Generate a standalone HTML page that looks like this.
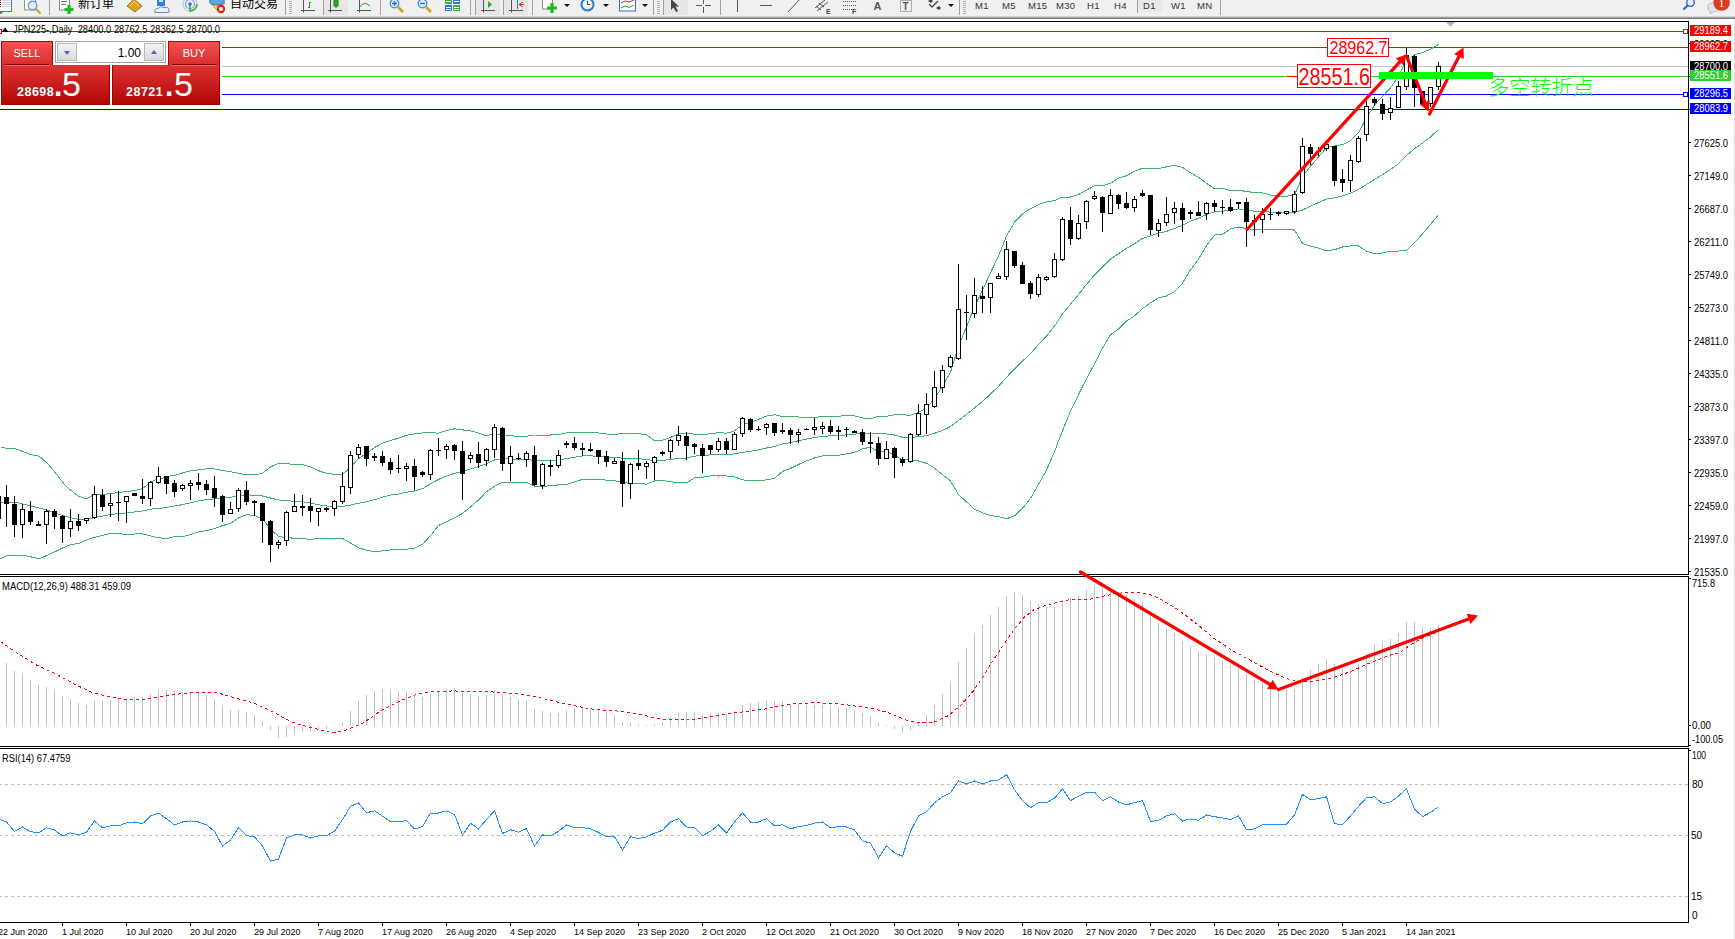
<!DOCTYPE html>
<html><head><meta charset="utf-8"><title>JPN225 Daily</title>
<style>
*{margin:0;padding:0;box-sizing:border-box}
html,body{width:1735px;height:939px;overflow:hidden;background:#fff}
body{position:relative;font-family:"Liberation Sans",Arial,sans-serif}
#chart{position:absolute;left:0;top:0}
#tb{position:absolute;left:0;top:0;width:1735px;height:19px;background:#f0f0f0;overflow:hidden}
#tb .shade1{position:absolute;left:0;top:16px;width:1735px;height:1px;background:#d4d4d4}
#tb .shade2{position:absolute;left:0;top:17px;width:1735px;height:1px;background:#a4a4a4}
#tb .tbt{position:absolute;top:-4px;font-family:"Noto Sans CJK SC",sans-serif;font-size:12px;line-height:14px;color:#000;white-space:nowrap;letter-spacing:0px}
#tb .tf{position:absolute;top:1px;font-family:"Liberation Sans",Arial,sans-serif;font-size:9.5px;line-height:10px;color:#333;letter-spacing:0.3px}
#tb .shade3{position:absolute;left:0;top:18px;width:1735px;height:1px;background:#777}
#otp{position:absolute;left:0;top:0;width:222px;height:106px}
#otp .bgw{position:absolute;left:0;top:37px;width:222px;height:69px;background:#fff}
#otp .tab{position:absolute;top:41px;height:25px;background:linear-gradient(#f25454,#d62a2a);border:1px solid #b30000;border-bottom:none;color:#fff;font-size:12px}
#otp .sell{left:1px;width:52px}
#otp .buy{left:168px;width:52px}
#otp .tab span{position:absolute;top:5px;width:100%;text-align:center;letter-spacing:0px;font-size:11px}
#otp .sep{position:absolute;height:1px;background:#8a0000;z-index:3}
#otp .sep2{position:absolute;height:1px;background:#e86a6a;z-index:3}
#otp .price{position:absolute;top:65px;height:40px;background:linear-gradient(#e03434,#b10606);border:1px solid #9e0000;color:#fff}
#otp .sellp{left:1px;width:109px;border-top:none}
#otp .buyp{left:112px;width:108px;border-top:none}
#otp .price b{position:absolute;bottom:5px;font-size:12.5px;font-weight:bold;letter-spacing:0.5px}
#otp .price em{position:absolute;bottom:3px;font-style:normal;font-size:30px;line-height:30px;font-weight:bold}
#otp .price span{position:absolute;bottom:3px;font-size:34px;line-height:34px}
#otp .sellp b{left:15px}
#otp .sellp em{left:52px}
#otp .sellp span{left:60px}
#otp .buyp b{left:13px}
#otp .buyp em{left:52px}
#otp .buyp span{left:61px}
#otp .lot{position:absolute;left:55px;top:41px;width:111px;height:22px;border:1px solid #a5a5a5;background:#fff}
#otp .lbtn{position:absolute;top:1px;width:20px;height:18px;background:linear-gradient(#f4f4f4,#d9d9d9);border:1px solid #b8b8b8}
#otp .lbtn.l{left:1px}
#otp .lbtn.r{right:1px}
#otp .lval{position:absolute;left:22px;right:22px;top:4px;text-align:right;font-size:12px;color:#000;padding-right:2px}
#otp i{position:absolute;left:6px;width:0;height:0;border-left:3.5px solid transparent;border-right:3.5px solid transparent}
#otp i.dn{top:7px;border-top:4px solid #5060c0}
#otp i.up{top:6px;border-bottom:4px solid #5060c0}
</style></head>
<body>
<svg id="chart" width="1735" height="939" viewBox="0 0 1735 939">
<defs><clipPath id="cmain"><rect x="0" y="22" width="1688" height="552"/></clipPath><clipPath id="cmacd"><rect x="0" y="577" width="1688" height="169"/></clipPath><clipPath id="crsi"><rect x="0" y="749" width="1688" height="173"/></clipPath></defs>
<g clip-path="url(#cmain)">
<g shape-rendering="crispEdges">
<rect x="0" y="31" width="1688" height="1" fill="#ff0000"/>
<rect x="0" y="47" width="1688" height="1" fill="#ff0000"/>
<rect x="0" y="66" width="1688" height="1" fill="#c0c0c0"/>
<rect x="0" y="76" width="1688" height="1" fill="#32cd32"/>
<rect x="0" y="94" width="1688" height="1" fill="#0000ff"/>
<rect x="0" y="109" width="1688" height="1" fill="#0000ff"/>
<rect x="1683.5" y="29.5" width="4" height="4" fill="#fff" stroke="#ff0000"/>
<rect x="1683.5" y="92.5" width="4" height="4" fill="#fff" stroke="#0000ff"/>
<rect x="-2.5" y="29.5" width="4" height="4" fill="#fff" stroke="#ff0000"/>
</g>
<g shape-rendering="crispEdges">
<polyline points="0.5,447.7 15.4,448.7 30.3,454.4 39.3,456.2 48.2,464.1 57.2,475.2 66.1,486.4 78.1,496.1 86.3,498.8 93.7,494.9 104.9,494.3 119.8,492.4 134.7,490.5 142.2,488.7 151.1,482.0 158.6,478.2 158.5,479.5 166.5,476.6 174.5,475.4 182.5,473.0 190.5,470.9 198.5,469.8 206.5,468.8 214.5,468.9 222.5,470.5 230.5,471.6 238.5,473.3 246.5,474.9 254.5,475.0 262.5,473.2 270.5,466.9 278.5,463.4 286.5,463.8 294.5,464.3 302.5,464.6 310.5,466.9 318.5,470.7 326.5,473.3 334.5,474.3 342.5,474.5 350.5,467.3 358.5,458.6 366.5,453.4 374.5,447.6 382.5,443.2 390.5,440.4 398.5,438.2 406.5,435.3 414.5,433.9 422.5,432.9 430.5,432.3 438.5,433.3 446.5,430.5 454.5,428.8 462.5,429.9 470.5,430.8 478.5,433.1 486.5,435.7 494.5,433.6 502.5,435.4 510.5,435.5 518.5,436.6 526.5,436.2 534.5,435.0 542.5,435.0 550.5,435.0 558.5,434.6 566.5,432.9 574.5,432.5 582.5,432.5 590.5,432.5 598.5,432.9 606.5,434.0 614.5,434.6 622.5,433.4 630.5,433.7 638.5,433.7 646.5,434.6 654.5,440.8 662.5,440.1 670.5,437.5 678.5,434.0 686.5,433.1 694.5,434.2 702.5,434.2 710.5,433.9 718.5,432.5 726.5,433.2 734.5,430.9 742.5,424.8 750.5,422.1 758.5,419.4 766.5,416.1 774.5,414.7 782.5,416.5 790.5,416.5 798.5,417.0 806.5,417.5 814.5,417.2 822.5,416.8 830.5,416.4 838.5,416.1 846.5,415.8 854.5,415.9 862.5,418.0 870.5,419.0 878.5,416.2 886.5,416.4 894.5,414.6 902.5,414.8 910.5,415.3 918.5,412.3 926.5,408.1 934.5,398.8 942.5,386.2 950.5,372.2 958.5,346.1 966.5,327.0 974.5,306.6 982.5,290.4 990.5,272.7 998.5,256.1 1006.5,235.9 1014.5,222.2 1022.5,213.8 1030.5,208.8 1038.5,204.6 1046.5,201.9 1054.5,200.5 1062.5,197.0 1070.5,197.0 1078.5,194.5 1086.5,190.1 1094.5,185.8 1102.5,185.7 1110.5,183.2 1118.5,178.1 1126.5,175.7 1134.5,171.3 1142.5,168.2 1150.5,168.6 1158.5,168.5 1166.5,166.8 1174.5,165.3 1182.5,167.4 1190.5,172.8 1198.5,177.2 1206.5,183.4 1214.5,188.6 1222.5,188.2 1230.5,190.8 1238.5,190.7 1246.5,191.2 1254.5,192.8 1262.5,192.8 1270.5,195.1 1278.5,196.0 1286.5,196.3 1294.5,195.0 1302.5,176.6 1310.5,166.2 1318.5,157.1 1326.5,147.6 1334.5,145.8 1342.5,144.7 1350.5,140.6 1358.5,132.8 1366.5,118.0 1374.5,105.0 1382.5,96.4 1390.5,88.0 1398.5,76.3 1406.5,60.5 1414.5,54.7 1422.5,52.5 1430.5,49.3 1438.5,44.4" fill="none" stroke="#3cb371" stroke-width="1" />
<polyline points="0.5,502.1 15.4,502.1 30.3,505.8 45.2,509.5 60.2,514.8 75.1,518.8 84.0,520.0 97.4,517.0 112.4,514.3 127.3,512.8 142.2,511.0 157.1,508.1 158.5,508.6 166.5,507.6 174.5,505.9 182.5,504.7 190.5,502.8 198.5,500.8 206.5,499.7 214.5,498.8 222.5,498.1 230.5,497.4 238.5,495.6 246.5,494.8 254.5,495.3 262.5,496.0 270.5,498.0 278.5,500.0 286.5,500.7 294.5,501.3 302.5,501.7 310.5,503.1 318.5,504.7 326.5,506.0 334.5,506.5 342.5,506.5 350.5,505.1 358.5,503.3 366.5,501.7 374.5,499.7 382.5,497.1 390.5,495.1 398.5,494.1 406.5,492.3 414.5,491.0 422.5,488.7 430.5,483.9 438.5,479.4 446.5,476.1 454.5,473.3 462.5,471.7 470.5,468.9 478.5,466.6 486.5,463.7 494.5,460.0 502.5,458.8 510.5,458.9 518.5,459.5 526.5,459.2 534.5,460.6 542.5,460.6 550.5,460.4 558.5,459.8 566.5,458.6 574.5,457.2 582.5,455.9 590.5,455.9 598.5,456.3 606.5,457.0 614.5,457.6 622.5,458.1 630.5,458.5 638.5,458.7 646.5,459.4 654.5,460.9 662.5,460.4 670.5,459.5 678.5,458.4 686.5,458.0 694.5,456.1 702.5,455.7 710.5,454.9 718.5,454.2 726.5,454.6 734.5,453.9 742.5,452.3 750.5,451.3 758.5,449.9 766.5,448.0 774.5,446.6 782.5,443.9 790.5,442.5 798.5,440.8 806.5,439.1 814.5,437.6 822.5,436.3 830.5,435.9 838.5,435.7 846.5,434.9 854.5,434.2 862.5,433.4 870.5,433.1 878.5,433.9 886.5,433.9 894.5,435.0 902.5,437.3 910.5,437.5 918.5,436.7 926.5,435.7 934.5,433.4 942.5,430.4 950.5,426.5 958.5,420.4 966.5,414.5 974.5,407.9 982.5,401.5 990.5,394.1 998.5,386.4 1006.5,377.3 1014.5,369.0 1022.5,361.1 1030.5,353.6 1038.5,344.5 1046.5,336.0 1054.5,326.0 1062.5,313.9 1070.5,304.1 1078.5,294.6 1086.5,284.4 1094.5,274.9 1102.5,267.0 1110.5,258.9 1118.5,253.6 1126.5,248.4 1134.5,243.6 1142.5,238.4 1150.5,235.8 1158.5,233.1 1166.5,231.4 1174.5,228.5 1182.5,225.3 1190.5,221.3 1198.5,218.2 1206.5,214.5 1214.5,211.9 1222.5,211.3 1230.5,209.9 1238.5,208.9 1246.5,209.9 1254.5,211.2 1262.5,211.2 1270.5,212.2 1278.5,212.6 1286.5,212.8 1294.5,212.5 1302.5,210.0 1310.5,206.2 1318.5,202.6 1326.5,199.1 1334.5,197.8 1342.5,195.9 1350.5,193.3 1358.5,189.4 1366.5,184.5 1374.5,179.4 1382.5,174.7 1390.5,169.5 1398.5,163.7 1406.5,155.4 1414.5,148.7 1422.5,143.2 1430.5,136.9 1438.5,129.5" fill="none" stroke="#3cb371" stroke-width="1" />
<polyline points="0.5,558.8 8.0,555.0 22.9,555.0 39.3,558.8 52.7,552.8 67.6,545.6 79.5,543.1 90.0,538.6 109.4,533.7 130.3,534.2 142.2,533.7 158.6,537.9 158.5,537.7 166.5,538.6 174.5,536.5 182.5,536.5 190.5,534.7 198.5,531.8 206.5,530.6 214.5,528.6 222.5,525.6 230.5,523.3 238.5,518.0 246.5,514.7 254.5,515.5 262.5,518.7 270.5,529.2 278.5,536.5 286.5,537.7 294.5,538.2 302.5,538.7 310.5,539.3 318.5,538.7 326.5,538.7 334.5,538.6 342.5,538.5 350.5,543.0 358.5,547.9 366.5,550.1 374.5,551.7 382.5,550.9 390.5,549.9 398.5,550.0 406.5,549.3 414.5,548.1 422.5,544.4 430.5,535.6 438.5,525.5 446.5,521.7 454.5,517.9 462.5,513.4 470.5,507.0 478.5,500.1 486.5,491.6 494.5,486.3 502.5,482.2 510.5,482.3 518.5,482.3 526.5,482.1 534.5,486.2 542.5,486.3 550.5,485.8 558.5,484.9 566.5,484.4 574.5,481.9 582.5,479.4 590.5,479.4 598.5,479.6 606.5,480.1 614.5,480.5 622.5,482.7 630.5,483.3 638.5,483.7 646.5,484.1 654.5,481.0 662.5,480.6 670.5,481.6 678.5,482.7 686.5,482.9 694.5,477.9 702.5,477.2 710.5,475.9 718.5,476.0 726.5,475.9 734.5,476.8 742.5,479.9 750.5,480.5 758.5,480.4 766.5,479.9 774.5,478.4 782.5,471.4 790.5,468.5 798.5,464.5 806.5,460.8 814.5,458.0 822.5,455.8 830.5,455.3 838.5,455.2 846.5,454.0 854.5,452.4 862.5,448.9 870.5,447.1 878.5,451.7 886.5,451.3 894.5,455.4 902.5,459.7 910.5,459.7 918.5,461.0 926.5,463.3 934.5,468.1 942.5,474.6 950.5,480.8 958.5,494.6 966.5,501.9 974.5,509.2 982.5,512.7 990.5,515.5 998.5,516.6 1006.5,518.7 1014.5,515.8 1022.5,508.3 1030.5,498.5 1038.5,484.5 1046.5,470.0 1054.5,451.6 1062.5,430.7 1070.5,411.2 1078.5,394.6 1086.5,378.7 1094.5,364.0 1102.5,348.4 1110.5,334.6 1118.5,329.1 1126.5,321.1 1134.5,315.9 1142.5,308.6 1150.5,302.9 1158.5,297.7 1166.5,296.0 1174.5,291.7 1182.5,283.2 1190.5,269.7 1198.5,259.2 1206.5,245.6 1214.5,235.1 1222.5,234.3 1230.5,228.9 1238.5,227.0 1246.5,228.6 1254.5,229.5 1262.5,229.7 1270.5,229.2 1278.5,229.3 1286.5,229.3 1294.5,230.1 1302.5,243.4 1310.5,246.2 1318.5,248.2 1326.5,250.7 1334.5,249.7 1342.5,247.0 1350.5,245.9 1358.5,246.0 1366.5,251.1 1374.5,253.7 1382.5,253.0 1390.5,251.1 1398.5,251.1 1406.5,250.3 1414.5,242.7 1422.5,233.9 1430.5,224.4 1438.5,214.7" fill="none" stroke="#3cb371" stroke-width="1" />
</g>
<g shape-rendering="crispEdges" fill="#000">
<rect x="-2" y="494" width="1" height="27"/>
<rect x="-4" y="496" width="5" height="23"/>
<rect x="6" y="485" width="1" height="42"/>
<rect x="4" y="497" width="5" height="7"/>
<rect x="14" y="496" width="1" height="41"/>
<rect x="12" y="504" width="5" height="21"/>
<rect x="22" y="504" width="1" height="34"/>
<rect x="20" y="509" width="5" height="16"/>
<rect x="21" y="510" width="3" height="14" fill="#fff"/>
<rect x="30" y="501" width="1" height="24"/>
<rect x="28" y="511" width="5" height="11"/>
<rect x="38" y="521" width="1" height="5"/>
<rect x="36" y="524" width="5" height="2"/>
<rect x="46" y="509" width="1" height="35"/>
<rect x="44" y="511" width="5" height="14"/>
<rect x="45" y="512" width="3" height="12" fill="#fff"/>
<rect x="54" y="509" width="1" height="20"/>
<rect x="52" y="511" width="5" height="6"/>
<rect x="62" y="515" width="1" height="28"/>
<rect x="60" y="516" width="5" height="13"/>
<rect x="70" y="509" width="1" height="28"/>
<rect x="68" y="521" width="5" height="8"/>
<rect x="69" y="522" width="3" height="6" fill="#fff"/>
<rect x="78" y="514" width="1" height="17"/>
<rect x="76" y="521" width="5" height="5"/>
<rect x="86" y="518" width="1" height="6"/>
<rect x="84" y="518" width="5" height="3"/>
<rect x="85" y="519" width="3" height="1" fill="#fff"/>
<rect x="94" y="486" width="1" height="33"/>
<rect x="92" y="494" width="5" height="24"/>
<rect x="93" y="495" width="3" height="22" fill="#fff"/>
<rect x="102" y="489" width="1" height="22"/>
<rect x="100" y="495" width="5" height="12"/>
<rect x="110" y="494" width="1" height="23"/>
<rect x="108" y="503" width="5" height="3"/>
<rect x="109" y="504" width="3" height="1" fill="#fff"/>
<rect x="118" y="491" width="1" height="30"/>
<rect x="116" y="502" width="5" height="1"/>
<rect x="126" y="496" width="1" height="27"/>
<rect x="124" y="496" width="5" height="6"/>
<rect x="125" y="497" width="3" height="4" fill="#fff"/>
<rect x="134" y="493" width="1" height="3"/>
<rect x="132" y="493" width="5" height="3"/>
<rect x="142" y="479" width="1" height="25"/>
<rect x="140" y="496" width="5" height="3"/>
<rect x="150" y="481" width="1" height="25"/>
<rect x="148" y="482" width="5" height="17"/>
<rect x="149" y="483" width="3" height="15" fill="#fff"/>
<rect x="158" y="467" width="1" height="17"/>
<rect x="156" y="476" width="5" height="7"/>
<rect x="157" y="477" width="3" height="5" fill="#fff"/>
<rect x="166" y="476" width="1" height="18"/>
<rect x="164" y="476" width="5" height="8"/>
<rect x="174" y="480" width="1" height="17"/>
<rect x="172" y="483" width="5" height="9"/>
<rect x="182" y="484" width="1" height="7"/>
<rect x="180" y="485" width="5" height="4"/>
<rect x="181" y="486" width="3" height="2" fill="#fff"/>
<rect x="190" y="480" width="1" height="20"/>
<rect x="188" y="483" width="5" height="3"/>
<rect x="189" y="484" width="3" height="1" fill="#fff"/>
<rect x="198" y="473" width="1" height="17"/>
<rect x="196" y="482" width="5" height="3"/>
<rect x="206" y="480" width="1" height="15"/>
<rect x="204" y="484" width="5" height="6"/>
<rect x="214" y="476" width="1" height="31"/>
<rect x="212" y="488" width="5" height="10"/>
<rect x="222" y="495" width="1" height="27"/>
<rect x="220" y="496" width="5" height="19"/>
<rect x="230" y="502" width="1" height="12"/>
<rect x="228" y="509" width="5" height="5"/>
<rect x="229" y="510" width="3" height="3" fill="#fff"/>
<rect x="238" y="488" width="1" height="24"/>
<rect x="236" y="490" width="5" height="19"/>
<rect x="237" y="491" width="3" height="17" fill="#fff"/>
<rect x="246" y="481" width="1" height="24"/>
<rect x="244" y="490" width="5" height="12"/>
<rect x="254" y="500" width="1" height="16"/>
<rect x="252" y="501" width="5" height="2"/>
<rect x="262" y="503" width="1" height="40"/>
<rect x="260" y="503" width="5" height="18"/>
<rect x="270" y="520" width="1" height="42"/>
<rect x="268" y="521" width="5" height="24"/>
<rect x="278" y="540" width="1" height="9"/>
<rect x="276" y="542" width="5" height="3"/>
<rect x="277" y="543" width="3" height="1" fill="#fff"/>
<rect x="286" y="511" width="1" height="35"/>
<rect x="284" y="512" width="5" height="29"/>
<rect x="285" y="513" width="3" height="27" fill="#fff"/>
<rect x="294" y="494" width="1" height="18"/>
<rect x="292" y="506" width="5" height="6"/>
<rect x="293" y="507" width="3" height="4" fill="#fff"/>
<rect x="302" y="495" width="1" height="21"/>
<rect x="300" y="506" width="5" height="2"/>
<rect x="310" y="498" width="1" height="24"/>
<rect x="308" y="506" width="5" height="5"/>
<rect x="318" y="508" width="1" height="18"/>
<rect x="316" y="508" width="5" height="4"/>
<rect x="317" y="509" width="3" height="2" fill="#fff"/>
<rect x="326" y="507" width="1" height="5"/>
<rect x="324" y="508" width="5" height="2"/>
<rect x="334" y="500" width="1" height="16"/>
<rect x="332" y="501" width="5" height="8"/>
<rect x="333" y="502" width="3" height="6" fill="#fff"/>
<rect x="342" y="472" width="1" height="32"/>
<rect x="340" y="486" width="5" height="16"/>
<rect x="341" y="487" width="3" height="14" fill="#fff"/>
<rect x="350" y="451" width="1" height="43"/>
<rect x="348" y="455" width="5" height="33"/>
<rect x="349" y="456" width="3" height="31" fill="#fff"/>
<rect x="358" y="444" width="1" height="15"/>
<rect x="356" y="447" width="5" height="8"/>
<rect x="357" y="448" width="3" height="6" fill="#fff"/>
<rect x="366" y="446" width="1" height="20"/>
<rect x="364" y="446" width="5" height="13"/>
<rect x="374" y="453" width="1" height="8"/>
<rect x="372" y="456" width="5" height="2"/>
<rect x="382" y="451" width="1" height="15"/>
<rect x="380" y="456" width="5" height="7"/>
<rect x="390" y="458" width="1" height="16"/>
<rect x="388" y="462" width="5" height="8"/>
<rect x="398" y="455" width="1" height="18"/>
<rect x="396" y="468" width="5" height="1"/>
<rect x="406" y="463" width="1" height="18"/>
<rect x="404" y="466" width="5" height="3"/>
<rect x="405" y="467" width="3" height="1" fill="#fff"/>
<rect x="414" y="459" width="1" height="31"/>
<rect x="412" y="466" width="5" height="11"/>
<rect x="422" y="471" width="1" height="6"/>
<rect x="420" y="472" width="5" height="3"/>
<rect x="430" y="449" width="1" height="31"/>
<rect x="428" y="450" width="5" height="25"/>
<rect x="429" y="451" width="3" height="23" fill="#fff"/>
<rect x="438" y="438" width="1" height="18"/>
<rect x="436" y="450" width="5" height="1"/>
<rect x="446" y="444" width="1" height="15"/>
<rect x="444" y="446" width="5" height="4"/>
<rect x="445" y="447" width="3" height="2" fill="#fff"/>
<rect x="454" y="444" width="1" height="16"/>
<rect x="452" y="445" width="5" height="6"/>
<rect x="462" y="441" width="1" height="59"/>
<rect x="460" y="451" width="5" height="23"/>
<rect x="470" y="452" width="1" height="11"/>
<rect x="468" y="455" width="5" height="4"/>
<rect x="469" y="456" width="3" height="2" fill="#fff"/>
<rect x="478" y="442" width="1" height="26"/>
<rect x="476" y="454" width="5" height="9"/>
<rect x="486" y="448" width="1" height="18"/>
<rect x="484" y="449" width="5" height="12"/>
<rect x="485" y="450" width="3" height="10" fill="#fff"/>
<rect x="494" y="424" width="1" height="34"/>
<rect x="492" y="427" width="5" height="23"/>
<rect x="493" y="428" width="3" height="21" fill="#fff"/>
<rect x="502" y="427" width="1" height="44"/>
<rect x="500" y="428" width="5" height="36"/>
<rect x="510" y="446" width="1" height="35"/>
<rect x="508" y="456" width="5" height="8"/>
<rect x="509" y="457" width="3" height="6" fill="#fff"/>
<rect x="518" y="453" width="1" height="7"/>
<rect x="516" y="458" width="5" height="1"/>
<rect x="526" y="451" width="1" height="16"/>
<rect x="524" y="453" width="5" height="7"/>
<rect x="525" y="454" width="3" height="5" fill="#fff"/>
<rect x="534" y="446" width="1" height="40"/>
<rect x="532" y="455" width="5" height="30"/>
<rect x="542" y="463" width="1" height="26"/>
<rect x="540" y="464" width="5" height="22"/>
<rect x="541" y="465" width="3" height="20" fill="#fff"/>
<rect x="550" y="460" width="1" height="16"/>
<rect x="548" y="465" width="5" height="2"/>
<rect x="558" y="450" width="1" height="18"/>
<rect x="556" y="455" width="5" height="11"/>
<rect x="557" y="456" width="3" height="9" fill="#fff"/>
<rect x="566" y="441" width="1" height="7"/>
<rect x="564" y="443" width="5" height="2"/>
<rect x="574" y="437" width="1" height="13"/>
<rect x="572" y="443" width="5" height="5"/>
<rect x="582" y="443" width="1" height="13"/>
<rect x="580" y="448" width="5" height="2"/>
<rect x="590" y="443" width="1" height="9"/>
<rect x="588" y="449" width="5" height="2"/>
<rect x="598" y="450" width="1" height="14"/>
<rect x="596" y="450" width="5" height="7"/>
<rect x="606" y="451" width="1" height="16"/>
<rect x="604" y="456" width="5" height="6"/>
<rect x="614" y="458" width="1" height="6"/>
<rect x="612" y="461" width="5" height="3"/>
<rect x="613" y="462" width="3" height="1" fill="#fff"/>
<rect x="622" y="452" width="1" height="55"/>
<rect x="620" y="461" width="5" height="23"/>
<rect x="630" y="463" width="1" height="36"/>
<rect x="628" y="464" width="5" height="20"/>
<rect x="629" y="465" width="3" height="18" fill="#fff"/>
<rect x="638" y="450" width="1" height="20"/>
<rect x="636" y="463" width="5" height="3"/>
<rect x="646" y="461" width="1" height="18"/>
<rect x="644" y="463" width="5" height="4"/>
<rect x="645" y="464" width="3" height="2" fill="#fff"/>
<rect x="654" y="456" width="1" height="24"/>
<rect x="652" y="457" width="5" height="6"/>
<rect x="653" y="458" width="3" height="4" fill="#fff"/>
<rect x="662" y="451" width="1" height="5"/>
<rect x="660" y="452" width="5" height="2"/>
<rect x="670" y="439" width="1" height="20"/>
<rect x="668" y="440" width="5" height="12"/>
<rect x="669" y="441" width="3" height="10" fill="#fff"/>
<rect x="678" y="426" width="1" height="20"/>
<rect x="676" y="435" width="5" height="6"/>
<rect x="677" y="436" width="3" height="4" fill="#fff"/>
<rect x="686" y="432" width="1" height="28"/>
<rect x="684" y="436" width="5" height="10"/>
<rect x="694" y="443" width="1" height="11"/>
<rect x="692" y="444" width="5" height="3"/>
<rect x="702" y="444" width="1" height="29"/>
<rect x="700" y="448" width="5" height="8"/>
<rect x="710" y="445" width="1" height="9"/>
<rect x="708" y="445" width="5" height="5"/>
<rect x="718" y="438" width="1" height="14"/>
<rect x="716" y="441" width="5" height="9"/>
<rect x="717" y="442" width="3" height="7" fill="#fff"/>
<rect x="726" y="438" width="1" height="16"/>
<rect x="724" y="441" width="5" height="9"/>
<rect x="734" y="432" width="1" height="18"/>
<rect x="732" y="434" width="5" height="16"/>
<rect x="733" y="435" width="3" height="14" fill="#fff"/>
<rect x="742" y="417" width="1" height="20"/>
<rect x="740" y="418" width="5" height="16"/>
<rect x="741" y="419" width="3" height="14" fill="#fff"/>
<rect x="750" y="418" width="1" height="14"/>
<rect x="748" y="419" width="5" height="11"/>
<rect x="758" y="426" width="1" height="5"/>
<rect x="756" y="429" width="5" height="1"/>
<rect x="766" y="423" width="1" height="12"/>
<rect x="764" y="424" width="5" height="4"/>
<rect x="765" y="425" width="3" height="2" fill="#fff"/>
<rect x="774" y="423" width="1" height="13"/>
<rect x="772" y="423" width="5" height="10"/>
<rect x="782" y="423" width="1" height="11"/>
<rect x="780" y="430" width="5" height="2"/>
<rect x="790" y="428" width="1" height="16"/>
<rect x="788" y="430" width="5" height="5"/>
<rect x="798" y="429" width="1" height="14"/>
<rect x="796" y="432" width="5" height="3"/>
<rect x="797" y="433" width="3" height="1" fill="#fff"/>
<rect x="806" y="428" width="1" height="2"/>
<rect x="804" y="429" width="5" height="1"/>
<rect x="814" y="418" width="1" height="17"/>
<rect x="812" y="427" width="5" height="3"/>
<rect x="813" y="428" width="3" height="1" fill="#fff"/>
<rect x="822" y="422" width="1" height="12"/>
<rect x="820" y="426" width="5" height="3"/>
<rect x="821" y="427" width="3" height="1" fill="#fff"/>
<rect x="830" y="420" width="1" height="14"/>
<rect x="828" y="426" width="5" height="6"/>
<rect x="838" y="426" width="1" height="14"/>
<rect x="836" y="430" width="5" height="2"/>
<rect x="846" y="427" width="1" height="10"/>
<rect x="844" y="429" width="5" height="1"/>
<rect x="854" y="430" width="1" height="3"/>
<rect x="852" y="431" width="5" height="2"/>
<rect x="862" y="429" width="1" height="16"/>
<rect x="860" y="432" width="5" height="10"/>
<rect x="870" y="432" width="1" height="21"/>
<rect x="868" y="442" width="5" height="2"/>
<rect x="878" y="437" width="1" height="28"/>
<rect x="876" y="443" width="5" height="16"/>
<rect x="886" y="441" width="1" height="18"/>
<rect x="884" y="449" width="5" height="10"/>
<rect x="885" y="450" width="3" height="8" fill="#fff"/>
<rect x="894" y="447" width="1" height="31"/>
<rect x="892" y="448" width="5" height="10"/>
<rect x="902" y="457" width="1" height="9"/>
<rect x="900" y="459" width="5" height="4"/>
<rect x="910" y="433" width="1" height="30"/>
<rect x="908" y="434" width="5" height="28"/>
<rect x="909" y="435" width="3" height="26" fill="#fff"/>
<rect x="918" y="404" width="1" height="32"/>
<rect x="916" y="413" width="5" height="22"/>
<rect x="917" y="414" width="3" height="20" fill="#fff"/>
<rect x="926" y="393" width="1" height="41"/>
<rect x="924" y="404" width="5" height="11"/>
<rect x="925" y="405" width="3" height="9" fill="#fff"/>
<rect x="934" y="371" width="1" height="37"/>
<rect x="932" y="387" width="5" height="20"/>
<rect x="933" y="388" width="3" height="18" fill="#fff"/>
<rect x="942" y="365" width="1" height="28"/>
<rect x="940" y="370" width="5" height="18"/>
<rect x="941" y="371" width="3" height="16" fill="#fff"/>
<rect x="950" y="355" width="1" height="13"/>
<rect x="948" y="357" width="5" height="10"/>
<rect x="949" y="358" width="3" height="8" fill="#fff"/>
<rect x="958" y="264" width="1" height="96"/>
<rect x="956" y="309" width="5" height="50"/>
<rect x="957" y="310" width="3" height="48" fill="#fff"/>
<rect x="966" y="295" width="1" height="45"/>
<rect x="964" y="312" width="5" height="1"/>
<rect x="974" y="278" width="1" height="40"/>
<rect x="972" y="295" width="5" height="19"/>
<rect x="973" y="296" width="3" height="17" fill="#fff"/>
<rect x="982" y="286" width="1" height="27"/>
<rect x="980" y="296" width="5" height="3"/>
<rect x="990" y="283" width="1" height="30"/>
<rect x="988" y="283" width="5" height="15"/>
<rect x="989" y="284" width="3" height="13" fill="#fff"/>
<rect x="998" y="273" width="1" height="6"/>
<rect x="996" y="276" width="5" height="3"/>
<rect x="997" y="277" width="3" height="1" fill="#fff"/>
<rect x="1006" y="241" width="1" height="39"/>
<rect x="1004" y="249" width="5" height="28"/>
<rect x="1005" y="250" width="3" height="26" fill="#fff"/>
<rect x="1014" y="251" width="1" height="17"/>
<rect x="1012" y="251" width="5" height="15"/>
<rect x="1022" y="262" width="1" height="22"/>
<rect x="1020" y="265" width="5" height="19"/>
<rect x="1030" y="281" width="1" height="18"/>
<rect x="1028" y="283" width="5" height="11"/>
<rect x="1038" y="274" width="1" height="23"/>
<rect x="1036" y="277" width="5" height="18"/>
<rect x="1037" y="278" width="3" height="16" fill="#fff"/>
<rect x="1046" y="276" width="1" height="5"/>
<rect x="1044" y="277" width="5" height="3"/>
<rect x="1045" y="278" width="3" height="1" fill="#fff"/>
<rect x="1054" y="253" width="1" height="25"/>
<rect x="1052" y="259" width="5" height="18"/>
<rect x="1053" y="260" width="3" height="16" fill="#fff"/>
<rect x="1062" y="217" width="1" height="44"/>
<rect x="1060" y="219" width="5" height="41"/>
<rect x="1061" y="220" width="3" height="39" fill="#fff"/>
<rect x="1070" y="207" width="1" height="38"/>
<rect x="1068" y="220" width="5" height="19"/>
<rect x="1078" y="215" width="1" height="25"/>
<rect x="1076" y="223" width="5" height="16"/>
<rect x="1077" y="224" width="3" height="14" fill="#fff"/>
<rect x="1086" y="200" width="1" height="29"/>
<rect x="1084" y="201" width="5" height="21"/>
<rect x="1085" y="202" width="3" height="19" fill="#fff"/>
<rect x="1094" y="191" width="1" height="9"/>
<rect x="1092" y="196" width="5" height="3"/>
<rect x="1093" y="197" width="3" height="1" fill="#fff"/>
<rect x="1102" y="196" width="1" height="36"/>
<rect x="1100" y="197" width="5" height="16"/>
<rect x="1110" y="189" width="1" height="25"/>
<rect x="1108" y="195" width="5" height="19"/>
<rect x="1109" y="196" width="3" height="17" fill="#fff"/>
<rect x="1118" y="194" width="1" height="15"/>
<rect x="1116" y="195" width="5" height="9"/>
<rect x="1126" y="192" width="1" height="17"/>
<rect x="1124" y="203" width="5" height="5"/>
<rect x="1134" y="196" width="1" height="16"/>
<rect x="1132" y="199" width="5" height="9"/>
<rect x="1133" y="200" width="3" height="7" fill="#fff"/>
<rect x="1142" y="190" width="1" height="7"/>
<rect x="1140" y="193" width="5" height="3"/>
<rect x="1150" y="195" width="1" height="40"/>
<rect x="1148" y="195" width="5" height="35"/>
<rect x="1158" y="219" width="1" height="18"/>
<rect x="1156" y="223" width="5" height="8"/>
<rect x="1157" y="224" width="3" height="6" fill="#fff"/>
<rect x="1166" y="197" width="1" height="29"/>
<rect x="1164" y="214" width="5" height="9"/>
<rect x="1165" y="215" width="3" height="7" fill="#fff"/>
<rect x="1174" y="202" width="1" height="22"/>
<rect x="1172" y="208" width="5" height="5"/>
<rect x="1173" y="209" width="3" height="3" fill="#fff"/>
<rect x="1182" y="203" width="1" height="29"/>
<rect x="1180" y="208" width="5" height="12"/>
<rect x="1190" y="210" width="1" height="9"/>
<rect x="1188" y="212" width="5" height="2"/>
<rect x="1198" y="201" width="1" height="15"/>
<rect x="1196" y="212" width="5" height="4"/>
<rect x="1206" y="202" width="1" height="18"/>
<rect x="1204" y="203" width="5" height="11"/>
<rect x="1205" y="204" width="3" height="9" fill="#fff"/>
<rect x="1214" y="200" width="1" height="12"/>
<rect x="1212" y="203" width="5" height="4"/>
<rect x="1222" y="200" width="1" height="14"/>
<rect x="1220" y="207" width="5" height="1"/>
<rect x="1230" y="199" width="1" height="13"/>
<rect x="1228" y="207" width="5" height="4"/>
<rect x="1238" y="202" width="1" height="7"/>
<rect x="1236" y="202" width="5" height="2"/>
<rect x="1246" y="198" width="1" height="49"/>
<rect x="1244" y="202" width="5" height="20"/>
<rect x="1254" y="215" width="1" height="21"/>
<rect x="1252" y="220" width="5" height="2"/>
<rect x="1262" y="208" width="1" height="25"/>
<rect x="1260" y="214" width="5" height="6"/>
<rect x="1261" y="215" width="3" height="4" fill="#fff"/>
<rect x="1270" y="208" width="1" height="12"/>
<rect x="1268" y="214" width="5" height="1"/>
<rect x="1278" y="211" width="1" height="5"/>
<rect x="1276" y="212" width="5" height="2"/>
<rect x="1286" y="211" width="1" height="4"/>
<rect x="1284" y="211" width="5" height="3"/>
<rect x="1285" y="212" width="3" height="1" fill="#fff"/>
<rect x="1294" y="191" width="1" height="23"/>
<rect x="1292" y="194" width="5" height="18"/>
<rect x="1293" y="195" width="3" height="16" fill="#fff"/>
<rect x="1302" y="138" width="1" height="56"/>
<rect x="1300" y="146" width="5" height="47"/>
<rect x="1301" y="147" width="3" height="45" fill="#fff"/>
<rect x="1310" y="144" width="1" height="21"/>
<rect x="1308" y="147" width="5" height="7"/>
<rect x="1318" y="147" width="1" height="9"/>
<rect x="1316" y="151" width="5" height="1"/>
<rect x="1326" y="140" width="1" height="11"/>
<rect x="1324" y="144" width="5" height="5"/>
<rect x="1325" y="145" width="3" height="3" fill="#fff"/>
<rect x="1334" y="146" width="1" height="40"/>
<rect x="1332" y="146" width="5" height="35"/>
<rect x="1342" y="169" width="1" height="23"/>
<rect x="1340" y="179" width="5" height="4"/>
<rect x="1350" y="155" width="1" height="37"/>
<rect x="1348" y="160" width="5" height="21"/>
<rect x="1349" y="161" width="3" height="19" fill="#fff"/>
<rect x="1358" y="136" width="1" height="27"/>
<rect x="1356" y="138" width="5" height="24"/>
<rect x="1357" y="139" width="3" height="22" fill="#fff"/>
<rect x="1366" y="101" width="1" height="40"/>
<rect x="1364" y="106" width="5" height="29"/>
<rect x="1365" y="107" width="3" height="27" fill="#fff"/>
<rect x="1374" y="97" width="1" height="9"/>
<rect x="1372" y="99" width="5" height="4"/>
<rect x="1382" y="99" width="1" height="21"/>
<rect x="1380" y="104" width="5" height="10"/>
<rect x="1390" y="97" width="1" height="23"/>
<rect x="1388" y="108" width="5" height="5"/>
<rect x="1389" y="109" width="3" height="3" fill="#fff"/>
<rect x="1398" y="81" width="1" height="27"/>
<rect x="1396" y="86" width="5" height="22"/>
<rect x="1397" y="87" width="3" height="20" fill="#fff"/>
<rect x="1406" y="48" width="1" height="42"/>
<rect x="1404" y="55" width="5" height="32"/>
<rect x="1405" y="56" width="3" height="30" fill="#fff"/>
<rect x="1414" y="55" width="1" height="52"/>
<rect x="1412" y="56" width="5" height="32"/>
<rect x="1422" y="91" width="1" height="13"/>
<rect x="1420" y="91" width="5" height="13"/>
<rect x="1430" y="87" width="1" height="20"/>
<rect x="1428" y="87" width="5" height="17"/>
<rect x="1429" y="88" width="3" height="15" fill="#fff"/>
<rect x="1438" y="62" width="1" height="28"/>
<rect x="1436" y="66" width="5" height="21"/>
<rect x="1437" y="67" width="3" height="19" fill="#fff"/>
</g>
</g>
<g clip-path="url(#cmacd)">
<g shape-rendering="crispEdges" fill="#c0c0c0">
<rect x="6" y="663" width="1" height="63"/>
<rect x="14" y="671" width="1" height="55"/>
<rect x="22" y="674" width="1" height="52"/>
<rect x="30" y="680" width="1" height="46"/>
<rect x="38" y="685" width="1" height="41"/>
<rect x="46" y="687" width="1" height="39"/>
<rect x="54" y="690" width="1" height="36"/>
<rect x="62" y="696" width="1" height="30"/>
<rect x="70" y="699" width="1" height="27"/>
<rect x="78" y="703" width="1" height="23"/>
<rect x="86" y="705" width="1" height="21"/>
<rect x="94" y="700" width="1" height="26"/>
<rect x="102" y="700" width="1" height="26"/>
<rect x="110" y="700" width="1" height="26"/>
<rect x="118" y="699" width="1" height="27"/>
<rect x="126" y="699" width="1" height="27"/>
<rect x="134" y="697" width="1" height="29"/>
<rect x="142" y="697" width="1" height="29"/>
<rect x="150" y="694" width="1" height="32"/>
<rect x="158" y="690" width="1" height="36"/>
<rect x="166" y="690" width="1" height="36"/>
<rect x="174" y="691" width="1" height="35"/>
<rect x="182" y="692" width="1" height="34"/>
<rect x="190" y="692" width="1" height="34"/>
<rect x="198" y="692" width="1" height="34"/>
<rect x="206" y="695" width="1" height="31"/>
<rect x="214" y="699" width="1" height="27"/>
<rect x="222" y="706" width="1" height="20"/>
<rect x="230" y="710" width="1" height="16"/>
<rect x="238" y="710" width="1" height="16"/>
<rect x="246" y="712" width="1" height="14"/>
<rect x="254" y="715" width="1" height="11"/>
<rect x="262" y="721" width="1" height="5"/>
<rect x="270" y="726" width="1" height="4"/>
<rect x="278" y="726" width="1" height="12"/>
<rect x="286" y="726" width="1" height="11"/>
<rect x="294" y="726" width="1" height="8"/>
<rect x="302" y="726" width="1" height="6"/>
<rect x="310" y="726" width="1" height="6"/>
<rect x="318" y="726" width="1" height="4"/>
<rect x="326" y="726" width="1" height="3"/>
<rect x="342" y="723" width="1" height="3"/>
<rect x="350" y="711" width="1" height="15"/>
<rect x="358" y="701" width="1" height="25"/>
<rect x="366" y="695" width="1" height="31"/>
<rect x="374" y="691" width="1" height="35"/>
<rect x="382" y="689" width="1" height="37"/>
<rect x="390" y="690" width="1" height="36"/>
<rect x="398" y="691" width="1" height="35"/>
<rect x="406" y="691" width="1" height="35"/>
<rect x="414" y="695" width="1" height="31"/>
<rect x="422" y="697" width="1" height="29"/>
<rect x="430" y="693" width="1" height="33"/>
<rect x="438" y="692" width="1" height="34"/>
<rect x="446" y="689" width="1" height="37"/>
<rect x="454" y="688" width="1" height="38"/>
<rect x="462" y="693" width="1" height="33"/>
<rect x="470" y="694" width="1" height="32"/>
<rect x="478" y="696" width="1" height="30"/>
<rect x="486" y="695" width="1" height="31"/>
<rect x="494" y="690" width="1" height="36"/>
<rect x="502" y="694" width="1" height="32"/>
<rect x="510" y="697" width="1" height="29"/>
<rect x="518" y="699" width="1" height="27"/>
<rect x="526" y="700" width="1" height="26"/>
<rect x="534" y="709" width="1" height="17"/>
<rect x="542" y="711" width="1" height="15"/>
<rect x="550" y="713" width="1" height="13"/>
<rect x="558" y="713" width="1" height="13"/>
<rect x="566" y="710" width="1" height="16"/>
<rect x="574" y="708" width="1" height="18"/>
<rect x="582" y="708" width="1" height="18"/>
<rect x="590" y="708" width="1" height="18"/>
<rect x="598" y="710" width="1" height="16"/>
<rect x="606" y="712" width="1" height="14"/>
<rect x="614" y="715" width="1" height="11"/>
<rect x="622" y="722" width="1" height="4"/>
<rect x="630" y="723" width="1" height="3"/>
<rect x="638" y="724" width="1" height="2"/>
<rect x="646" y="725" width="1" height="1"/>
<rect x="654" y="724" width="1" height="2"/>
<rect x="662" y="722" width="1" height="4"/>
<rect x="670" y="717" width="1" height="9"/>
<rect x="678" y="713" width="1" height="13"/>
<rect x="686" y="712" width="1" height="14"/>
<rect x="694" y="712" width="1" height="14"/>
<rect x="702" y="714" width="1" height="12"/>
<rect x="710" y="714" width="1" height="12"/>
<rect x="718" y="713" width="1" height="13"/>
<rect x="726" y="714" width="1" height="12"/>
<rect x="734" y="711" width="1" height="15"/>
<rect x="742" y="705" width="1" height="21"/>
<rect x="750" y="703" width="1" height="23"/>
<rect x="758" y="702" width="1" height="24"/>
<rect x="766" y="700" width="1" height="26"/>
<rect x="774" y="701" width="1" height="25"/>
<rect x="782" y="701" width="1" height="25"/>
<rect x="790" y="704" width="1" height="22"/>
<rect x="798" y="704" width="1" height="22"/>
<rect x="806" y="705" width="1" height="21"/>
<rect x="814" y="705" width="1" height="21"/>
<rect x="822" y="705" width="1" height="21"/>
<rect x="830" y="706" width="1" height="20"/>
<rect x="838" y="707" width="1" height="19"/>
<rect x="846" y="708" width="1" height="18"/>
<rect x="854" y="710" width="1" height="16"/>
<rect x="862" y="713" width="1" height="13"/>
<rect x="870" y="716" width="1" height="10"/>
<rect x="878" y="723" width="1" height="3"/>
<rect x="886" y="725" width="1" height="1"/>
<rect x="894" y="726" width="1" height="3"/>
<rect x="902" y="726" width="1" height="7"/>
<rect x="910" y="726" width="1" height="4"/>
<rect x="918" y="723" width="1" height="3"/>
<rect x="926" y="715" width="1" height="11"/>
<rect x="934" y="705" width="1" height="21"/>
<rect x="942" y="694" width="1" height="32"/>
<rect x="950" y="682" width="1" height="44"/>
<rect x="958" y="662" width="1" height="64"/>
<rect x="966" y="648" width="1" height="78"/>
<rect x="974" y="634" width="1" height="92"/>
<rect x="982" y="625" width="1" height="101"/>
<rect x="990" y="615" width="1" height="111"/>
<rect x="998" y="607" width="1" height="119"/>
<rect x="1006" y="596" width="1" height="130"/>
<rect x="1014" y="592" width="1" height="134"/>
<rect x="1022" y="595" width="1" height="131"/>
<rect x="1030" y="601" width="1" height="125"/>
<rect x="1038" y="604" width="1" height="122"/>
<rect x="1046" y="607" width="1" height="119"/>
<rect x="1054" y="607" width="1" height="119"/>
<rect x="1062" y="600" width="1" height="126"/>
<rect x="1070" y="598" width="1" height="128"/>
<rect x="1078" y="596" width="1" height="130"/>
<rect x="1086" y="590" width="1" height="136"/>
<rect x="1094" y="586" width="1" height="140"/>
<rect x="1102" y="588" width="1" height="138"/>
<rect x="1110" y="590" width="1" height="136"/>
<rect x="1118" y="592" width="1" height="134"/>
<rect x="1126" y="595" width="1" height="131"/>
<rect x="1134" y="599" width="1" height="127"/>
<rect x="1142" y="602" width="1" height="124"/>
<rect x="1150" y="614" width="1" height="112"/>
<rect x="1158" y="623" width="1" height="103"/>
<rect x="1166" y="629" width="1" height="97"/>
<rect x="1174" y="633" width="1" height="93"/>
<rect x="1182" y="641" width="1" height="85"/>
<rect x="1190" y="646" width="1" height="80"/>
<rect x="1198" y="651" width="1" height="75"/>
<rect x="1206" y="654" width="1" height="72"/>
<rect x="1214" y="657" width="1" height="69"/>
<rect x="1222" y="661" width="1" height="65"/>
<rect x="1230" y="665" width="1" height="61"/>
<rect x="1238" y="668" width="1" height="58"/>
<rect x="1246" y="674" width="1" height="52"/>
<rect x="1254" y="680" width="1" height="46"/>
<rect x="1262" y="683" width="1" height="43"/>
<rect x="1270" y="686" width="1" height="40"/>
<rect x="1278" y="689" width="1" height="37"/>
<rect x="1286" y="690" width="1" height="36"/>
<rect x="1294" y="689" width="1" height="37"/>
<rect x="1302" y="677" width="1" height="49"/>
<rect x="1310" y="670" width="1" height="56"/>
<rect x="1318" y="664" width="1" height="62"/>
<rect x="1326" y="659" width="1" height="67"/>
<rect x="1334" y="664" width="1" height="62"/>
<rect x="1342" y="669" width="1" height="57"/>
<rect x="1350" y="668" width="1" height="58"/>
<rect x="1358" y="664" width="1" height="62"/>
<rect x="1366" y="654" width="1" height="72"/>
<rect x="1374" y="645" width="1" height="81"/>
<rect x="1382" y="642" width="1" height="84"/>
<rect x="1390" y="639" width="1" height="87"/>
<rect x="1398" y="633" width="1" height="93"/>
<rect x="1406" y="622" width="1" height="104"/>
<rect x="1414" y="622" width="1" height="104"/>
<rect x="1422" y="627" width="1" height="99"/>
<rect x="1430" y="628" width="1" height="98"/>
<rect x="1438" y="625" width="1" height="101"/>
</g>
<polyline points="0.5,641.7 18.6,654.0 36.7,665.2 54.8,673.4 72.9,683.3 91.0,692.0 109.1,696.9 127.2,700.0 145.3,699.6 156.2,697.5 172.5,694.7 190.6,692.9 217.8,692.9 235.9,698.2 254.0,703.2 272.1,711.4 290.2,721.3 300.5,725.0 308.6,726.8 326.7,731.8 335.8,732.6 344.8,730.4 362.9,723.2 381.0,710.5 399.1,701.4 417.2,694.2 431.7,691.8 453.5,690.9 471.6,691.8 489.7,691.8 507.8,692.9 525.9,694.7 544.0,698.7 562.1,703.2 580.2,706.9 589.3,708.7 598.6,709.9 616.7,711.0 634.8,713.2 652.9,717.4 662.0,719.0 680.1,719.9 689.1,719.9 707.2,717.2 725.3,714.1 743.5,711.8 761.6,709.6 779.7,706.0 797.8,703.2 815.9,702.9 834.0,703.2 852.1,705.6 870.2,708.1 888.6,712.7 906.7,720.4 919.4,722.8 933.9,722.3 948.4,715.6 961.0,705.1 973.7,690.6 982.8,677.0 990.0,665.2 997.2,654.4 1006.3,640.8 1015.3,628.1 1024.4,617.2 1033.5,610.0 1047.9,604.6 1060.6,601.8 1069.7,599.7 1087.8,599.7 1102.3,596.4 1114.9,593.7 1127.6,592.3 1138.5,592.3 1151.1,595.0 1160.5,599.1 1178.6,610.0 1196.7,623.9 1214.8,639.0 1232.9,650.7 1251.0,660.7 1269.1,670.7 1287.2,678.8 1298.1,681.2 1314.4,681.2 1332.5,677.9 1350.6,671.6 1368.7,663.4 1386.8,656.2 1399.5,652.5 1414.0,642.6 1423.0,637.7 1438.5,631.5" fill="none" stroke="#ff0000" stroke-width="1" stroke-dasharray="3 3" shape-rendering="crispEdges"/>
</g>
<g clip-path="url(#crsi)">
<g shape-rendering="crispEdges" stroke="#c0c0c0" stroke-dasharray="3 3">
<line x1="-1" y1="784.5" x2="1688" y2="784.5"/>
<line x1="-1" y1="835.5" x2="1688" y2="835.5"/>
<line x1="-1" y1="896.5" x2="1688" y2="896.5"/>
</g>
<polyline points="-1.5,819.0 6.5,822.0 14.5,831.4 22.5,827.0 30.5,831.7 38.5,832.8 46.5,827.8 54.5,830.0 62.5,835.8 70.5,832.8 78.5,834.9 86.5,832.1 94.5,821.0 102.5,827.9 110.5,825.9 118.5,825.9 126.5,822.8 134.5,822.0 142.5,823.8 150.5,815.9 158.5,813.1 166.5,818.7 174.5,824.9 182.5,822.0 190.5,821.0 198.5,822.0 206.5,824.8 214.5,831.4 222.5,845.9 230.5,840.0 238.5,827.8 246.5,835.6 254.5,836.9 262.5,845.9 270.5,861.2 278.5,859.1 286.5,838.0 294.5,834.9 302.5,834.9 310.5,838.0 318.5,835.8 326.5,835.8 334.5,831.1 342.5,819.6 350.5,806.2 358.5,803.0 366.5,812.7 374.5,810.9 382.5,816.2 390.5,821.7 398.5,821.7 406.5,820.7 414.5,828.9 422.5,826.6 430.5,813.0 438.5,813.0 446.5,810.9 454.5,814.5 462.5,835.1 470.5,823.3 478.5,828.9 486.5,819.6 494.5,810.9 502.5,833.5 510.5,829.7 518.5,832.1 526.5,828.6 534.5,845.9 542.5,834.9 550.5,835.8 558.5,831.4 566.5,824.9 574.5,827.5 582.5,827.5 590.5,828.9 598.5,832.5 606.5,836.7 614.5,836.7 622.5,850.1 630.5,836.7 638.5,838.6 646.5,836.9 654.5,833.1 662.5,830.3 670.5,822.0 678.5,818.7 686.5,827.0 694.5,827.7 702.5,835.6 710.5,831.4 718.5,824.8 726.5,833.1 734.5,822.0 742.5,812.7 750.5,822.0 758.5,822.0 766.5,818.7 774.5,825.9 782.5,824.8 790.5,828.9 798.5,826.6 806.5,825.6 814.5,823.1 822.5,822.0 830.5,827.9 838.5,826.6 846.5,827.0 854.5,830.0 862.5,840.8 870.5,843.2 878.5,857.7 886.5,845.9 894.5,852.9 902.5,856.3 910.5,831.4 918.5,815.9 926.5,811.7 934.5,802.7 942.5,796.8 950.5,792.6 958.5,781.0 966.5,784.0 974.5,781.0 982.5,784.0 990.5,781.0 998.5,779.9 1006.5,774.6 1014.5,789.6 1022.5,800.6 1030.5,807.6 1038.5,802.7 1046.5,802.7 1054.5,798.1 1062.5,788.9 1070.5,800.6 1078.5,796.2 1086.5,792.1 1094.5,792.1 1102.5,800.6 1110.5,796.8 1118.5,802.0 1126.5,804.8 1134.5,802.7 1142.5,800.6 1150.5,821.4 1158.5,820.5 1166.5,815.8 1174.5,813.8 1182.5,821.0 1190.5,818.9 1198.5,820.2 1206.5,815.0 1214.5,816.7 1222.5,817.9 1230.5,819.6 1238.5,815.8 1246.5,830.0 1254.5,828.8 1262.5,824.8 1270.5,824.8 1278.5,824.1 1286.5,824.1 1294.5,815.0 1302.5,794.2 1310.5,799.9 1318.5,798.5 1326.5,796.8 1334.5,823.6 1342.5,824.8 1350.5,815.8 1358.5,806.3 1366.5,797.7 1374.5,796.8 1382.5,803.7 1390.5,802.0 1398.5,795.9 1406.5,789.0 1414.5,808.9 1422.5,816.7 1430.5,812.4 1438.5,806.8" fill="none" stroke="#1e90ff" stroke-width="1" shape-rendering="crispEdges"/>
</g>
<g shape-rendering="crispEdges" fill="#000">
<rect x="0" y="21" width="1689" height="1" fill="#000"/>
<rect x="1688" y="21" width="1" height="554" fill="#000"/>
<rect x="0" y="574" width="1689" height="1" fill="#000"/>
<rect x="0" y="576" width="1689" height="1" fill="#000"/>
<rect x="1688" y="576" width="1" height="171" fill="#000"/>
<rect x="0" y="746" width="1689" height="1" fill="#000"/>
<rect x="0" y="748" width="1689" height="1" fill="#000"/>
<rect x="1688" y="748" width="1" height="175" fill="#000"/>
<rect x="0" y="922" width="1689" height="1" fill="#000"/>
<rect x="1689" y="571" width="2" height="1" fill="#000"/>
<rect x="1689" y="538" width="2" height="1" fill="#000"/>
<rect x="1689" y="505" width="2" height="1" fill="#000"/>
<rect x="1689" y="472" width="2" height="1" fill="#000"/>
<rect x="1689" y="439" width="2" height="1" fill="#000"/>
<rect x="1689" y="406" width="2" height="1" fill="#000"/>
<rect x="1689" y="373" width="2" height="1" fill="#000"/>
<rect x="1689" y="340" width="2" height="1" fill="#000"/>
<rect x="1689" y="307" width="2" height="1" fill="#000"/>
<rect x="1689" y="274" width="2" height="1" fill="#000"/>
<rect x="1689" y="241" width="2" height="1" fill="#000"/>
<rect x="1689" y="208" width="2" height="1" fill="#000"/>
<rect x="1689" y="175" width="2" height="1" fill="#000"/>
<rect x="1689" y="142" width="2" height="1" fill="#000"/>
<rect x="1689" y="109" width="2" height="1" fill="#000"/>
<rect x="1689" y="76" width="2" height="1" fill="#000"/>
<rect x="1689" y="43" width="2" height="1" fill="#000"/>
<rect x="1689" y="578" width="2" height="1" fill="#000"/>
<rect x="1689" y="725" width="2" height="1" fill="#000"/>
<rect x="1689" y="745" width="2" height="1" fill="#000"/>
<rect x="1689" y="750" width="2" height="1" fill="#000"/>
<rect x="-2" y="923" width="1" height="3" fill="#000"/>
<rect x="62" y="923" width="1" height="3" fill="#000"/>
<rect x="126" y="923" width="1" height="3" fill="#000"/>
<rect x="190" y="923" width="1" height="3" fill="#000"/>
<rect x="254" y="923" width="1" height="3" fill="#000"/>
<rect x="318" y="923" width="1" height="3" fill="#000"/>
<rect x="382" y="923" width="1" height="3" fill="#000"/>
<rect x="446" y="923" width="1" height="3" fill="#000"/>
<rect x="510" y="923" width="1" height="3" fill="#000"/>
<rect x="574" y="923" width="1" height="3" fill="#000"/>
<rect x="638" y="923" width="1" height="3" fill="#000"/>
<rect x="702" y="923" width="1" height="3" fill="#000"/>
<rect x="766" y="923" width="1" height="3" fill="#000"/>
<rect x="830" y="923" width="1" height="3" fill="#000"/>
<rect x="894" y="923" width="1" height="3" fill="#000"/>
<rect x="958" y="923" width="1" height="3" fill="#000"/>
<rect x="1022" y="923" width="1" height="3" fill="#000"/>
<rect x="1086" y="923" width="1" height="3" fill="#000"/>
<rect x="1150" y="923" width="1" height="3" fill="#000"/>
<rect x="1214" y="923" width="1" height="3" fill="#000"/>
<rect x="1278" y="923" width="1" height="3" fill="#000"/>
<rect x="1342" y="923" width="1" height="3" fill="#000"/>
<rect x="1406" y="923" width="1" height="3" fill="#000"/>
</g>
<rect x="1734" y="19" width="1" height="920" fill="#dedede"/>
<g font-family="Liberation Sans, Arial, sans-serif" font-size="10" fill="#000">
<text x="1694" y="576" textLength="34" lengthAdjust="spacingAndGlyphs">21535.0</text>
<text x="1694" y="543" textLength="34" lengthAdjust="spacingAndGlyphs">21997.0</text>
<text x="1694" y="510" textLength="34" lengthAdjust="spacingAndGlyphs">22459.0</text>
<text x="1694" y="477" textLength="34" lengthAdjust="spacingAndGlyphs">22935.0</text>
<text x="1694" y="444" textLength="34" lengthAdjust="spacingAndGlyphs">23397.0</text>
<text x="1694" y="411" textLength="34" lengthAdjust="spacingAndGlyphs">23873.0</text>
<text x="1694" y="378" textLength="34" lengthAdjust="spacingAndGlyphs">24335.0</text>
<text x="1694" y="345" textLength="34" lengthAdjust="spacingAndGlyphs">24811.0</text>
<text x="1694" y="312" textLength="34" lengthAdjust="spacingAndGlyphs">25273.0</text>
<text x="1694" y="279" textLength="34" lengthAdjust="spacingAndGlyphs">25749.0</text>
<text x="1694" y="246" textLength="34" lengthAdjust="spacingAndGlyphs">26211.0</text>
<text x="1694" y="213" textLength="34" lengthAdjust="spacingAndGlyphs">26687.0</text>
<text x="1694" y="180" textLength="34" lengthAdjust="spacingAndGlyphs">27149.0</text>
<text x="1694" y="147" textLength="34" lengthAdjust="spacingAndGlyphs">27625.0</text>
<text x="1694" y="114" textLength="34" lengthAdjust="spacingAndGlyphs">28087.0</text>
<text x="1694" y="81" textLength="34" lengthAdjust="spacingAndGlyphs">28563.0</text>
<text x="1694" y="48" textLength="34" lengthAdjust="spacingAndGlyphs">29025.0</text>
</g>
<rect x="1690" y="25" width="41" height="11" fill="#ff0000" shape-rendering="crispEdges"/>
<text x="1694" y="34.4" font-family="Liberation Sans, Arial, sans-serif" font-size="10" fill="#fff" textLength="34" lengthAdjust="spacingAndGlyphs">29189.4</text>
<rect x="1690" y="41" width="41" height="11" fill="#ff0000" shape-rendering="crispEdges"/>
<text x="1694" y="50.4" font-family="Liberation Sans, Arial, sans-serif" font-size="10" fill="#fff" textLength="34" lengthAdjust="spacingAndGlyphs">28962.7</text>
<rect x="1690" y="61" width="41" height="11" fill="#000000" shape-rendering="crispEdges"/>
<text x="1694" y="70.4" font-family="Liberation Sans, Arial, sans-serif" font-size="10" fill="#fff" textLength="34" lengthAdjust="spacingAndGlyphs">28700.0</text>
<rect x="1690" y="70" width="41" height="11" fill="#32cd32" shape-rendering="crispEdges"/>
<text x="1694" y="79.4" font-family="Liberation Sans, Arial, sans-serif" font-size="10" fill="#fff" textLength="34" lengthAdjust="spacingAndGlyphs">28551.6</text>
<rect x="1690" y="88" width="41" height="11" fill="#0000ff" shape-rendering="crispEdges"/>
<text x="1694" y="97.4" font-family="Liberation Sans, Arial, sans-serif" font-size="10" fill="#fff" textLength="34" lengthAdjust="spacingAndGlyphs">28296.5</text>
<rect x="1690" y="103" width="41" height="11" fill="#0000ff" shape-rendering="crispEdges"/>
<text x="1694" y="112.4" font-family="Liberation Sans, Arial, sans-serif" font-size="10" fill="#fff" textLength="34" lengthAdjust="spacingAndGlyphs">28083.9</text>
<g font-family="Liberation Sans, Arial, sans-serif" font-size="10" fill="#000">
<text x="1692" y="587" textLength="23" lengthAdjust="spacingAndGlyphs">715.8</text>
<text x="1692" y="729" textLength="19" lengthAdjust="spacingAndGlyphs">0.00</text>
<text x="1692" y="743" textLength="31" lengthAdjust="spacingAndGlyphs">-100.05</text>
<text x="1692" y="759" textLength="14" lengthAdjust="spacingAndGlyphs">100</text>
<text x="1692" y="788">80</text>
<text x="1691" y="839">50</text>
<text x="1691" y="900">15</text>
<text x="1692" y="919">0</text>
</g>
<text x="2" y="589.5" font-family="Liberation Sans, Arial, sans-serif" font-size="10" fill="#000" textLength="129" lengthAdjust="spacingAndGlyphs">MACD(12,26,9) 488.31 459.09</text>
<text x="2" y="761.5" font-family="Liberation Sans, Arial, sans-serif" font-size="10" fill="#000" textLength="68.5" lengthAdjust="spacingAndGlyphs">RSI(14) 67.4759</text>
<g font-family="Liberation Sans, Arial, sans-serif" font-size="9" fill="#000">
<text x="-2" y="935">22 Jun 2020</text>
<text x="62" y="935">1 Jul 2020</text>
<text x="126" y="935">10 Jul 2020</text>
<text x="190" y="935">20 Jul 2020</text>
<text x="254" y="935">29 Jul 2020</text>
<text x="318" y="935">7 Aug 2020</text>
<text x="382" y="935">17 Aug 2020</text>
<text x="446" y="935">26 Aug 2020</text>
<text x="510" y="935">4 Sep 2020</text>
<text x="574" y="935">14 Sep 2020</text>
<text x="638" y="935">23 Sep 2020</text>
<text x="702" y="935">2 Oct 2020</text>
<text x="766" y="935">12 Oct 2020</text>
<text x="830" y="935">21 Oct 2020</text>
<text x="894" y="935">30 Oct 2020</text>
<text x="958" y="935">9 Nov 2020</text>
<text x="1022" y="935">18 Nov 2020</text>
<text x="1086" y="935">27 Nov 2020</text>
<text x="1150" y="935">7 Dec 2020</text>
<text x="1214" y="935">16 Dec 2020</text>
<text x="1278" y="935">25 Dec 2020</text>
<text x="1342" y="935">5 Jan 2021</text>
<text x="1406" y="935">14 Jan 2021</text>
</g>
<path d="M1.5,32 L5,27.5 L8.5,32 Z" fill="#000"/>
<text x="13" y="33" font-family="Liberation Sans, Arial, sans-serif" font-size="10" fill="#000" textLength="207" lengthAdjust="spacingAndGlyphs" style="white-space:pre">JPN225-,Daily  28400.0 28762.5 28362.5 28700.0</text>
<path d="M1446,22 L1455,22 L1450.5,27 Z" fill="#b4b4b4"/>
<rect x="1287" y="76" width="10" height="1" fill="#ff0000"/>
<rect x="1327.5" y="38.5" width="61" height="18" fill="#fff" stroke="#ff0000"/>
<text x="1329.5" y="54" font-family="Liberation Sans, Arial, sans-serif" font-size="18" fill="#ff0000" textLength="58" lengthAdjust="spacingAndGlyphs">28962.7</text>
<rect x="1297.5" y="64.5" width="73" height="23" fill="#fff" stroke="#ff0000"/>
<text x="1298.5" y="85.3" font-family="Liberation Sans, Arial, sans-serif" font-size="24" fill="#ff0000" textLength="71.5" lengthAdjust="spacingAndGlyphs">28551.6</text>
<text x="1488" y="95" font-family="Liberation Sans, 'Noto Sans CJK SC', sans-serif" font-weight="300" font-size="20.5" fill="#00ff00" textLength="106" lengthAdjust="spacingAndGlyphs">多空转折点</text>
<g clip-path="url(#cmain)">
<line x1="1247" y1="229.5" x2="1399.8" y2="61.9" stroke="#ff0000" stroke-width="3.2" stroke-linecap="round"/><path d="M1406.5,54.5 L1403.8,65.6 L1395.7,58.2 Z" fill="#ff0000"/>
<line x1="1406.5" y1="56" x2="1424.8" y2="102.2" stroke="#ff0000" stroke-width="3.2" stroke-linecap="round"/><path d="M1428.5,111.5 L1419.7,104.2 L1429.9,100.2 Z" fill="#ff0000"/>
<line x1="1429.5" y1="114" x2="1458.9" y2="56.4" stroke="#ff0000" stroke-width="3.2" stroke-linecap="round"/><path d="M1463.5,47.5 L1463.8,58.9 L1454.1,53.9 Z" fill="#ff0000"/>
</g>
<rect x="1379" y="72" width="114" height="7" fill="#00ff00"/>
<line x1="1080.5" y1="572" x2="1269.9" y2="684.4" stroke="#ff0000" stroke-width="3.2" stroke-linecap="round"/><path d="M1278.5,689.5 L1267.1,689.1 L1272.7,679.7 Z" fill="#ff0000"/>
<line x1="1278.5" y1="689.5" x2="1468.6" y2="619.0" stroke="#ff0000" stroke-width="3.2" stroke-linecap="round"/><path d="M1478.0,615.5 L1470.5,624.1 L1466.7,613.8 Z" fill="#ff0000"/>
</svg>

<div id="otp">
  <div class="bgw"></div>
  <div class="tab sell"><span>SELL</span></div>
  <div class="tab buy"><span>BUY</span></div>
  <div class="lot">
    <div class="lbtn l"><i class="dn"></i></div>
    <div class="lval">1.00</div>
    <div class="lbtn r"><i class="up"></i></div>
  </div>
  <div class="price sellp"><b>28698</b><em>.</em><span>5</span></div>
  <div class="price buyp"><b>28721</b><em>.</em><span>5</span></div>
  <div class="sep" style="left:5px;width:44px;top:64px"></div><div class="sep2" style="left:5px;width:44px;top:65px"></div>
  <div class="sep" style="left:172px;width:44px;top:64px"></div><div class="sep2" style="left:172px;width:44px;top:65px"></div>
</div>

<div id="tb">
<svg width="1735" height="19" viewBox="0 0 1735 19" style="position:absolute;left:0;top:0">
<!-- pressed backgrounds -->
<rect x="324" y="0" width="24" height="15" fill="#e6e6e6"/>
<rect x="476" y="0" width="24" height="15" fill="#e6e6e6"/>
<rect x="504" y="0" width="24" height="15" fill="#e6e6e6"/>
<rect x="664" y="0" width="24" height="15" fill="#e6e6e6"/>
<rect x="1138" y="0" width="24" height="12" fill="#e8e8e8"/>
<!-- separators -->
<g fill="#a0a0a0">
<rect x="49" y="0" width="1" height="15"/>
<rect x="285" y="0" width="1" height="15"/>
<rect x="323" y="0" width="1" height="15"/>
<rect x="380" y="0" width="1" height="15"/>
<rect x="470" y="0" width="1" height="15"/>
<rect x="475" y="0" width="1" height="15"/>
<rect x="503" y="0" width="1" height="15"/>
<rect x="532" y="0" width="1" height="15"/>
<rect x="653" y="0" width="1" height="15"/>
<rect x="663" y="0" width="1" height="15"/>
<rect x="720" y="0" width="1" height="15"/>
<rect x="959" y="0" width="1" height="15"/>
<rect x="1137" y="0" width="1" height="13"/>
<rect x="1220" y="0" width="1" height="15"/>
</g>
<!-- grips -->
<g fill="#b0b0b0">
<rect x="289" y="1" width="3" height="1"/><rect x="289" y="3" width="3" height="1"/><rect x="289" y="5" width="3" height="1"/><rect x="289" y="7" width="3" height="1"/><rect x="289" y="9" width="3" height="1"/><rect x="289" y="11" width="3" height="1"/><rect x="289" y="13" width="3" height="1"/>
<rect x="657" y="1" width="3" height="1"/><rect x="657" y="3" width="3" height="1"/><rect x="657" y="5" width="3" height="1"/><rect x="657" y="7" width="3" height="1"/><rect x="657" y="9" width="3" height="1"/><rect x="657" y="11" width="3" height="1"/><rect x="657" y="13" width="3" height="1"/>
<rect x="963" y="1" width="3" height="1"/><rect x="963" y="3" width="3" height="1"/><rect x="963" y="5" width="3" height="1"/><rect x="963" y="7" width="3" height="1"/><rect x="963" y="9" width="3" height="1"/><rect x="963" y="11" width="3" height="1"/><rect x="963" y="13" width="3" height="1"/>
</g>
<!-- icon 1: list doc -->
<rect x="-1" y="-3" width="12.5" height="14.5" fill="#fff" stroke="#3a7fd0"/>
<g fill="#c8d8f4"><rect x="2" y="0" width="8" height="1"/><rect x="2" y="2" width="8" height="1"/><rect x="2" y="4" width="8" height="1"/><rect x="2" y="6" width="8" height="1"/></g>
<g><rect x="0" y="0" width="1" height="1" fill="#f00"/><rect x="0" y="2" width="1" height="1" fill="#222"/><rect x="0" y="4" width="1" height="1" fill="#222"/><rect x="0" y="6" width="1" height="1" fill="#f00"/></g>
<path d="M0,12 L1,13.5 L2.5,12" fill="none" stroke="#222"/>
<!-- icon 2: doc + magnifier -->
<rect x="24.5" y="-3" width="11" height="13" fill="#fff" stroke="#9a9480"/>
<circle cx="32.5" cy="5.5" r="4.3" fill="#dff0fa" stroke="#5b8fd8" stroke-width="1.2"/>
<path d="M36,9 L40.5,13.5" stroke="#d4a21c" stroke-width="2.4"/>
<!-- icon 3: new order -->
<rect x="59.5" y="-3" width="10" height="13" fill="#fff" stroke="#888"/>
<path d="M61,1.5 H67 M61,4.5 H66" stroke="#777"/>
<path d="M69,5 V14 M64.5,9.5 H73.5" stroke="#1fb81f" stroke-width="3.2"/>
<!-- gold -->
<path d="M127,6 L134,-1 L142,6 L135,12 Z" fill="#d9a520" stroke="#a37412" stroke-width="1"/>
<path d="M130,6 L134.5,1.5 L139,6" fill="none" stroke="#f6d668"/>
<!-- cloud building -->
<rect x="157" y="-2" width="8" height="8" fill="#2f7fe0"/>
<rect x="159" y="0" width="4" height="2" fill="#bfe0ff"/>
<path d="M155,12.5 Q154,8.5 158,8.5 Q160,5.5 164,7.5 Q169,6.5 169,10.5 Q170,12.5 167,12.5 Z" fill="#eef2f8" stroke="#6b84b0"/>
<!-- signal -->
<circle cx="190" cy="4" r="7" fill="none" stroke="#b9cbe6" stroke-width="1.2"/>
<circle cx="190" cy="4" r="4.5" fill="none" stroke="#6f9ad8" stroke-width="1.2"/>
<path d="M190,4 V12" stroke="#2cae2c" stroke-width="1.5"/>
<path d="M197,4 A7,7 0 0 1 190,11" fill="none" stroke="#4fb04f" stroke-width="1.8"/>
<circle cx="190" cy="4" r="1.8" fill="#2e6fd0"/>
<!-- auto trading -->
<path d="M210,3 L225,3 L219,12 Z" fill="#f4d54a" stroke="#c9a62b"/>
<ellipse cx="217" cy="1.5" rx="7.5" ry="3.5" fill="#5aa8e6" stroke="#2d78c0"/>
<circle cx="221" cy="9" r="4.2" fill="#d8231c"/>
<rect x="219.2" y="7.2" width="3.6" height="3.6" fill="#fff"/>
<!-- bar chart icon -->
<g stroke="#555" fill="none"><path d="M303.5,0 V12.5 M301,10.5 H315"/></g>
<path d="M309.5,2 V8 M308,7.5 H310 M311,2.5 H309.5" stroke="#21a021" fill="none"/>
<!-- candle icon -->
<g stroke="#555" fill="none"><path d="M330.5,0 V12.5 M328,10.5 H342"/></g>
<rect x="334" y="-1" width="4" height="7" fill="#20b020" stroke="#138013"/>
<path d="M336,6 V8" stroke="#138013"/>
<!-- line chart -->
<g stroke="#555" fill="none"><path d="M359.5,0 V12.5 M357,10.5 H371"/></g>
<path d="M359,8 Q364,0 370,6" stroke="#21a021" fill="none"/>
<!-- zoom in/out -->
<circle cx="394.5" cy="3.5" r="4.3" fill="#d5ecfb" stroke="#3b86d6" stroke-width="1.2"/>
<path d="M392,3.5 H397 M394.5,1 V6" stroke="#2f6fc8" stroke-width="1.4"/>
<path d="M398,7 L403,12" stroke="#d2a318" stroke-width="2.6"/>
<circle cx="422.5" cy="3.5" r="4.3" fill="#d5ecfb" stroke="#3b86d6" stroke-width="1.2"/>
<path d="M420,3.5 H425" stroke="#2f6fc8" stroke-width="1.4"/>
<path d="M426,7 L431,12" stroke="#d2a318" stroke-width="2.6"/>
<!-- tile windows -->
<rect x="445" y="-1" width="7" height="5" fill="#3fae3f"/><rect x="453" y="-1" width="7" height="5" fill="#3b73d9"/>
<rect x="445" y="5" width="7" height="6" fill="#3b73d9"/><rect x="453" y="5" width="7" height="6" fill="#3fae3f"/>
<g fill="#fff"><rect x="446" y="7" width="5" height="1"/><rect x="454" y="7" width="5" height="1"/><rect x="446" y="9" width="5" height="1"/><rect x="454" y="9" width="5" height="1"/><rect x="446" y="1" width="5" height="1"/><rect x="454" y="1" width="5" height="1"/></g>
<!-- autoscroll -->
<g stroke="#555" fill="none"><path d="M483.5,0 V12.5 M481,10.5 H495"/></g>
<path d="M488,1 L492,4.5 L488,8 Z" fill="#21b021"/>
<!-- chart shift -->
<g stroke="#555" fill="none"><path d="M511.5,0 V12.5 M509,10.5 H523"/></g>
<path d="M517.5,0 V9" stroke="#2f6fc8"/>
<path d="M519,4.5 L523,2 M519,4.5 L523,7 M519,4.5 H524" stroke="#d23b0c"/>
<!-- indicators -->
<rect x="542.5" y="-2" width="10" height="11" fill="#fff" stroke="#888"/>
<path d="M552,3 V13 M547,8 H557" stroke="#1fb81f" stroke-width="3.2"/>
<path d="M564,4 H570 L567,7 Z" fill="#111"/>
<!-- clock -->
<circle cx="587.5" cy="4.5" r="7" fill="#2a78d6"/>
<circle cx="587.5" cy="4.5" r="5" fill="#f4f8fc"/>
<path d="M587.5,1 V4.5 H590" stroke="#333" fill="none"/>
<path d="M603,4 H609 L606,7 Z" fill="#111"/>
<!-- templates -->
<rect x="619.5" y="-2" width="16" height="13" fill="#fff" stroke="#3a6fc8"/>
<path d="M621,3 L625,1 L629,2 L634,0" stroke="#b33" fill="none"/>
<path d="M621,8 L625,6 L629,7.5 L634,5" stroke="#2a2" fill="none"/>
<path d="M642,4 H648 L645,7 Z" fill="#111"/>
<!-- cursor -->
<path d="M671,-1 L671,10 L673.5,7.5 L676,12 L678,11 L675.5,6.5 L679,6.5 Z" fill="#444"/>
<!-- crosshair -->
<path d="M696,5.5 H702 M705,5.5 H711 M703.5,-1 V4 M703.5,7 V13" stroke="#555"/>
<!-- vline, hline, trend -->
<path d="M737.5,-1 V12" stroke="#555"/>
<path d="M760,5.5 H772" stroke="#555"/>
<path d="M788,12 L800,-1" stroke="#555"/>
<!-- channel E -->
<path d="M815,8 L825,0 M817,11 L828,2 M816,6 L821,10 M819,3 L824,7" stroke="#555"/>
<text x="826" y="14" font-family="Liberation Sans, Arial, sans-serif" font-size="7" font-weight="bold" fill="#444">E</text>
<!-- fibo F -->
<path d="M843,1.5 H856 M843,5.5 H856 M843,9.5 H853" stroke="#555" stroke-dasharray="1 1"/>
<text x="852" y="14" font-family="Liberation Sans, Arial, sans-serif" font-size="7" font-weight="bold" fill="#444">F</text>
<!-- A -->
<text x="873.5" y="10" font-family="Liberation Sans, Arial, sans-serif" font-size="11" font-weight="bold" fill="#555">A</text>
<!-- T box -->
<rect x="900.5" y="0.5" width="11" height="11" fill="none" stroke="#666" stroke-dasharray="1 1"/>
<text x="902.5" y="9.5" font-family="Liberation Sans, Arial, sans-serif" font-size="10" font-weight="bold" fill="#555">T</text>
<!-- arrows -->
<path d="M928,1 L931,-1 L933,1 L931,3 Z M936,8 L939,6 L941,8 L939,10 Z" fill="#444"/>
<path d="M929,4 L932,7 L938,1" stroke="#444" fill="none" stroke-width="1.3"/>
<path d="M948,4 H954 L951,7 Z" fill="#111"/>
<!-- search -->
<circle cx="1690.5" cy="2.5" r="3.8" fill="none" stroke="#2562d8" stroke-width="1.3"/>
<path d="M1688,5 L1683.5,9.5" stroke="#2562d8" stroke-width="2.2"/>
<!-- chat + badge -->
<path d="M1708,8 Q1707,3 1713,3 Q1720,3 1719,8 Q1718,12 1712,12 L1710,14 L1710.5,11.5 Q1708,11 1708,8 Z" fill="#e2e4ea" stroke="#b9bcc4"/>
<circle cx="1721.6" cy="2.6" r="8.2" fill="#dc3a1c"/>
<text x="1721.6" y="6.5" text-anchor="middle" font-family="Liberation Serif, serif" font-size="11" fill="#fff">1</text>
</svg>
<div class="tbt cjk" style="left:78px;width:37px">新订单</div>
<div class="tbt cjk" style="left:230px;width:48px">自动交易</div>
<div class="tf" style="left:975px">M1</div>
<div class="tf" style="left:1002px">M5</div>
<div class="tf" style="left:1028px">M15</div>
<div class="tf" style="left:1056px">M30</div>
<div class="tf" style="left:1087px">H1</div>
<div class="tf" style="left:1114px">H4</div>
<div class="tf" style="left:1143px">D1</div>
<div class="tf" style="left:1171px">W1</div>
<div class="tf" style="left:1197px">MN</div>
<div class="shade1"></div><div class="shade2"></div><div class="shade3"></div></div>

</body></html>
